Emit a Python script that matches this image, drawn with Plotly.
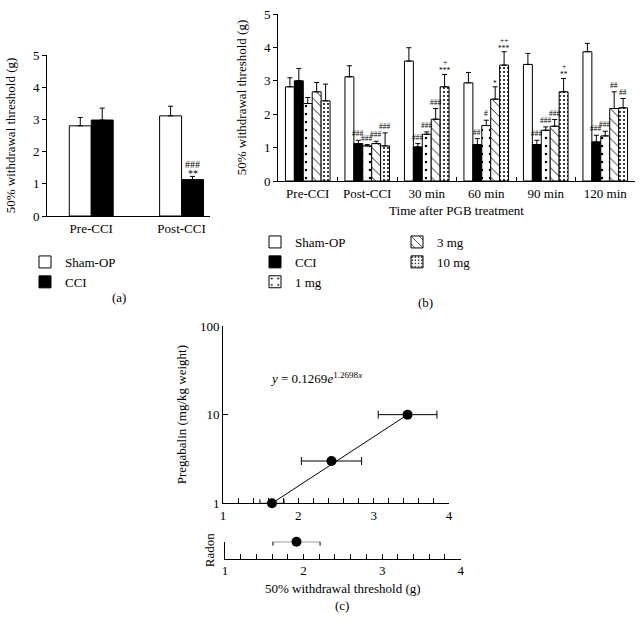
import plotly.graph_objects as go

W, H = 643, 630
FONT = "Liberation Serif"

# ---------------- Panel (a) data ----------------
a_categories = ["Pre-CCI", "Post-CCI"]
a_sham = [2.80, 3.11]
a_sham_err = [0.26, 0.30]
a_cci = [2.98, 1.13]
a_cci_err = [0.37, 0.10]
a_cci_sig = ["", "###<br>**"]

# ---------------- Panel (b) data ----------------
b_categories = ["Pre-CCI", "Post-CCI", "30 min", "60 min", "90 min", "120 min"]
b_names = ["Sham-OP", "CCI", "1 mg", "3 mg", "10 mg"]
b_sham = [2.82, 3.12, 3.59, 2.94, 3.49, 3.87]
b_cci = [3.00, 1.12, 1.02, 1.09, 1.09, 1.17]
b_1mg = [2.32, 1.05, 1.40, 1.66, 1.52, 1.35]
b_3mg = [2.67, 1.12, 1.85, 2.45, 1.64, 2.17]
b_10mg = [2.40, 1.05, 2.82, 3.47, 2.67, 2.19]
b_sham_err = [0.27, 0.33, 0.40, 0.31, 0.33, 0.25]
b_cci_err = [0.37, 0.10, 0.10, 0.18, 0.13, 0.20]
b_1mg_err = [0.18, 0.04, 0.07, 0.16, 0.10, 0.14]
b_3mg_err = [0.28, 0.07, 0.32, 0.37, 0.20, 0.50]
b_10mg_err = [0.50, 0.39, 0.37, 0.40, 0.40, 0.28]
b_sham_sig = ["", "", "", "", "", ""]
b_cci_sig = ["", "###", "###", "##", "###", "###"]
b_1mg_sig = ["", "###", "###", "#", "###", "###"]
b_3mg_sig = ["", "###", "###", "*", "###", "##"]
b_10mg_sig = ["", "###", "+<br>***", "++<br>***", "+<br>**", "##"]

# ---------------- Panel (c) data ----------------
c_doses = [1, 3, 10]
c_threshold = [1.65, 2.44, 3.45]
c_threshold_err = [0.16, 0.40, 0.39]
c_fit_x = [1.65, 3.45]
c_fit_y = [1, 10]
c_equation = "<i>y</i> = 0.1269<i>e</i><sup>1.2698<i>x</i></sup>"
radon_threshold = [1.91]
radon_err = [0.30]
radon_y = [1]
c_x_ticks = [1, 2, 3, 4]
c_y_ticks = [1, 10, 100]

fig = go.Figure()

def err(arr):
    return dict(type="data", array=arr, arrayminus=[0] * len(arr), symmetric=False,
                color="black", thickness=1, width=2.5)

# Panel (a) bars
a_width = 0.243
fig.add_trace(go.Bar(x=a_categories, y=a_sham, name="Sham-OP", width=a_width, offset=-a_width,
                     marker=dict(color="white", line=dict(color="black", width=1)),
                     error_y=err(a_sham_err), xaxis="x", yaxis="y", legend="legend"))
fig.add_trace(go.Bar(x=a_categories, y=a_cci, name="CCI", width=a_width, offset=0,
                     marker=dict(color="black", line=dict(color="black", width=1)),
                     error_y=err(a_cci_err), xaxis="x", yaxis="y", legend="legend"))

# Panel (b) bars
b_series = [
    (b_sham, b_sham_err, b_sham_sig, dict(color="white", line=dict(color="black", width=1)), "legend2"),
    (b_cci, b_cci_err, b_cci_sig, dict(color="black", line=dict(color="black", width=1)), "legend2"),
    (b_1mg, b_1mg_err, b_1mg_sig, dict(color="white", line=dict(color="black", width=1),
                                       pattern=dict(shape=".", size=8, solidity=0.08, fgcolor="black",
                                                    bgcolor="white", fillmode="replace")), "legend2"),
    (b_3mg, b_3mg_err, b_3mg_sig, dict(color="white", line=dict(color="black", width=1),
                                       pattern=dict(shape="\\", size=7, solidity=0.12, fgcolor="black",
                                                    bgcolor="white", fillmode="replace")), "legend3"),
    (b_10mg, b_10mg_err, b_10mg_sig, dict(color="white", line=dict(color="black", width=1),
                                          pattern=dict(shape=".", size=4, solidity=0.2, fgcolor="black",
                                                       bgcolor="white", fillmode="replace")), "legend3"),
]
for name, (vals, errs, sig, marker, leg) in zip(b_names, b_series):
    fig.add_trace(go.Bar(x=b_categories, y=vals, name=name, marker=marker, error_y=err(errs),
                         xaxis="x2", yaxis="y2", legend=leg))

# Panel (c) upper
fig.add_trace(go.Scatter(x=c_fit_x, y=c_fit_y, mode="lines", line=dict(color="black", width=1),
                         xaxis="x3", yaxis="y3", showlegend=False, cliponaxis=False))
fig.add_trace(go.Scatter(x=c_threshold, y=c_doses, mode="markers",
                         marker=dict(color="black", size=10),
                         error_x=dict(type="data", array=c_threshold_err, color="black", thickness=1, width=4),
                         xaxis="x3", yaxis="y3", showlegend=False, cliponaxis=False))
# Panel (c) lower
fig.add_trace(go.Scatter(x=radon_threshold, y=radon_y, mode="markers",
                         marker=dict(color="black", size=10),
                         error_x=dict(type="data", array=radon_err, color="black", thickness=1, width=4),
                         xaxis="x4", yaxis="y4", showlegend=False, cliponaxis=False))

annotations = []

def add_sig(text, x, y, xref, yref, size, star_shift, hash_shift, gap):
    lines = text.split("<br>")
    shift = None
    for line in reversed(lines):
        if shift is None:
            shift = star_shift if "*" in line else hash_shift
        else:
            shift += gap
        annotations.append(dict(x=x, y=y, xref=xref, yref=yref, text=line, showarrow=False,
                                yanchor="bottom", yshift=shift,
                                font=dict(family=FONT, size=size, color="black")))

# significance marks panel (a)
for i, s in enumerate(a_cci_sig):
    if s:
        add_sig(s, i + a_width / 2, a_cci[i] + a_cci_err[i], "x", "y", 10, -5, 0, 9.5)
# significance marks panel (b)
offsets = [-0.3, -0.15, 0, 0.15, 0.3]
for k, (vals, errs, sig, marker, leg) in enumerate(b_series):
    for i, s in enumerate(sig):
        if s:
            add_sig(s, i + offsets[k], vals[i] + errs[i], "x2", "y2", 7.5, -3, 0, 8)
# equation
annotations.append(dict(x=1.6, y=1.414, xref="x3", yref="y3", text=c_equation, showarrow=False,
                        xanchor="left", font=dict(family=FONT, size=13, color="black")))
# panel letters
for txt, px, py in [("(a)", 110, 297), ("(b)", 435, 302), ("(c)", 342, 615)]:
    annotations.append(dict(x=px / W, y=1 - py / H, xref="paper", yref="paper", text=txt,
                            showarrow=False, font=dict(family=FONT, size=13, color="black")))

axis_common = dict(showline=True, linecolor="black", linewidth=1, showgrid=False, zeroline=False,
                   tickfont=dict(family=FONT, size=13, color="black"), tickcolor="black",
                   automargin=False)
title_font = dict(family=FONT, size=13, color="black")

fig.update_layout(
    width=W, height=H, margin=dict(l=0, r=0, t=0, b=0),
    paper_bgcolor="white", plot_bgcolor="white",
    font=dict(family=FONT, size=13, color="black"),
    barmode="group", bargap=0.25, bargroupgap=0,
    showlegend=True,
    annotations=annotations,
    legend=dict(x=25 / W, y=1 - 247 / H, xanchor="left", yanchor="top", bgcolor="rgba(0,0,0,0)",
                font=dict(family=FONT, size=13, color="black"), tracegroupgap=0),
    legend2=dict(x=255 / W, y=1 - 227 / H, xanchor="left", yanchor="top", bgcolor="rgba(0,0,0,0)",
                 font=dict(family=FONT, size=13, color="black"), tracegroupgap=0),
    legend3=dict(x=397 / W, y=1 - 227 / H, xanchor="left", yanchor="top", bgcolor="rgba(0,0,0,0)",
                 font=dict(family=FONT, size=13, color="black"), tracegroupgap=0),
    xaxis=dict(axis_common, domain=[47 / W, 210 / W], anchor="y", type="category",
               range=[-0.49, 1.315], ticks=""),
    yaxis=dict(axis_common, domain=[1 - 216 / H, 1 - 55 / H], anchor="x", range=[0, 5], dtick=1,
               ticks="outside", ticklen=4,
               title=dict(text="50% withdrawal threshold (g)", font=title_font, standoff=14)),
    xaxis2=dict(axis_common, domain=[278 / W, 635 / W], anchor="y2", type="category",
                range=[-0.5, 5.5], ticks="inside", ticklen=4, tickson="boundaries",
                title=dict(text="Time after PGB treatment", font=title_font, standoff=6)),
    yaxis2=dict(axis_common, domain=[1 - 181 / H, 1 - 14 / H], anchor="x2", range=[0, 5], dtick=1,
                ticks="outside", ticklen=4,
                title=dict(text="50% withdrawal threshold (g)", font=title_font, standoff=14)),
    xaxis3=dict(axis_common, domain=[223 / W, 449 / W], anchor="y3", range=[1, 4],
                tickvals=c_x_ticks, ticks="inside", ticklen=5,
                minor=dict(dtick=0.2, tick0=1, ticks="inside", ticklen=5, tickcolor="black", showgrid=False)),
    yaxis3=dict(axis_common, domain=[1 - 503.3 / H, 1 - 326 / H], anchor="x3", type="log", range=[0, 2],
                tickvals=c_y_ticks, ticktext=["1", "10", "100"], ticks="inside", ticklen=5,
                title=dict(text="Pregabalin (mg/kg weight)", font=title_font, standoff=10)),
    xaxis4=dict(axis_common, domain=[225 / W, 460.7 / W], anchor="y4", range=[1, 4],
                tickvals=c_x_ticks, ticks="inside", ticklen=5,
                minor=dict(dtick=0.2, tick0=1, ticks="inside", ticklen=5, tickcolor="black", showgrid=False),
                title=dict(text="50% withdrawal threshold (g)", font=title_font, standoff=6)),
    yaxis4=dict(axis_common, domain=[1 - 558.7 / H, 1 - 541.7 / H], anchor="x4", range=[0, 1],
                tickvals=[1], showticklabels=False, ticks="inside", ticklen=5,
                title=dict(text="Radon", font=title_font, standoff=6)),
)

# remove the browser's default 8px page margin so the figure sits at the window's corner
fig.write_html("out.html", config={"displayModeBar": False},
               post_script="document.body.style.margin='0';")
